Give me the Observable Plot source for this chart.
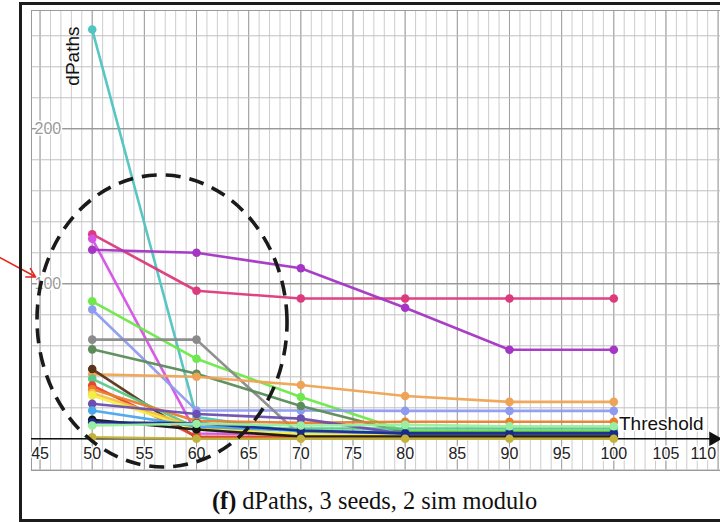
<!DOCTYPE html>
<html><head><meta charset="utf-8">
<script src="https://cdn.jsdelivr.net/npm/d3@7"></script>
<script src="https://cdn.jsdelivr.net/npm/@observablehq/plot@0.6"></script>
<style>
html,body{margin:0;padding:0;background:#fff;width:720px;height:522px;overflow:hidden;}
#frame{position:absolute;left:19px;top:2px;width:800px;height:514px;border:3px solid #1c1c1c;z-index:2;pointer-events:none;}
#chart{position:absolute;left:0;top:0;z-index:1;}
#caption{position:absolute;left:0;width:749px;top:489px;line-height:24px;text-align:center;font-family:"Liberation Serif","Times New Roman",serif;font-size:24.4px;color:#111;z-index:3;}
</style></head><body>
<div id="frame"></div>
<div id="chart"></div>
<div id="caption"><b>(f)</b> dPaths, 3 seeds, 2 sim modulo</div>
<script>
// Threshold values (x)
const thresholds = [50, 60, 70, 80, 90, 100];

// dPaths per series, read at thresholds 50..100
const sTeal       = [264, 14, 4.5, 4.5, 4.5, 4.5];
const sCrimson    = [132, 95.5, 90.5, 90.5, 90.5, 90.5];
const sMagenta    = [129, 3.4, 3, 2.6, 2.6, 2.6];
const sPurple     = [122, 120, 110, 84.5, 57.4, 57.4];
const sLime       = [88.7, 51.6, 27, 5, 5, 5];
const sLavender   = [83.4, 18.3, 18.3, 18, 18, 18];
const sGray       = [64, 64, 2, 2, 2, 2];
const sDarkGreen  = [57.7, 42, 21.2, 4, 4, 4];
const sOrange     = [41.6, 40, 34.7, 27.6, 23.8, 23.8];
const sBrown      = [45, 0.8, 0.8, 0.8, 0.8, 0.8];
const sMidGreen   = [38.7, 7, 6.6, 6.6, 6.6, 6.6];
const sRed        = [34.4, 1.5, 1.2, 1.2, 1.2, 1.2];
const sDarkOrange = [32, 11.5, 10.3, 11, 11, 11];
const sLightOrange= [29.5, 7.5, 2.5, 2, 2, 2];
const sYellow     = [28, 6, 3, 2, 2, 2];
const sDarkPurple = [22.6, 16, 13, 3, 3, 3];
const sLightBlue  = [18.3, 8, 5, 3.5, 3.5, 3.5];
const sBlack      = [12.3, 6, 1.5, 1.5, 1.5, 1.5];
const sNavy       = [10.7, 10, 5.4, 3.5, 3.5, 3.5];
const sPaleGreen  = [8.6, 9.7, 8.6, 9, 8.1, 8.1];
const sOlive      = [1, 0, 0, 0, 0, 0];

const seriesValues = [sTeal, sCrimson, sMagenta, sPurple, sLime, sLavender, sGray, sDarkGreen,
  sOrange, sBrown, sMidGreen, sRed, sDarkOrange, sLightOrange, sYellow, sDarkPurple,
  sLightBlue, sBlack, sNavy, sPaleGreen, sOlive];
const seriesColors = ["#4fc4c0", "#dc3a7c", "#d651e6", "#a535c4", "#6ee84a", "#8e9bf0", "#8a8a8a", "#5b8c5a",
  "#efa354", "#5a3418", "#58c98a", "#e8452c", "#e8802e", "#f6c044", "#f4ee4a", "#6a4fb0",
  "#4aa8ea", "#151515", "#1a2a8a", "#9aeea0", "#c3b33c"];

// Axis tick labels / grid
const xTickLabels = [45, 50, 55, 60, 65, 70, 75, 80, 85, 90, 95, 100, 105, 110];
const yTickLabels = [100, 200];
const xMinorGrid = d3.range(45, 111);
const yMinorGrid = d3.range(-20, 261, 20);

const rows = seriesValues.flatMap((vals, si) =>
  vals.map((v, i) => ({series: si, x: thresholds[i], y: v})));

const xDomain = [44.18, 110.23];
const yDomain = [-20.45, 276.3];
const font = "Liberation Sans, Arial, sans-serif";

const marks = [
  Plot.ruleX(xMinorGrid, {stroke: "#cdcdcd", strokeWidth: 1}),
  Plot.ruleX(xTickLabels, {stroke: "#a0a0a0", strokeWidth: 1}),
  Plot.ruleY(yMinorGrid, {stroke: "#c0c0c0", strokeWidth: 1}),
  Plot.ruleY(yTickLabels, {stroke: "#858585", strokeWidth: 1}),
  Plot.frame({stroke: "#9a9a9a"}),
  Plot.ruleY([0], {stroke: "#111", strokeWidth: 1.6}),
  Plot.dot([0], {x: xDomain[1], y: d => d, dx: -7, symbol: "triangle", rotate: 90, r: 5.5, fill: "#111", stroke: "none"}),
];
seriesValues.forEach((vals, si) => {
  const data = rows.filter(d => d.series === si);
  marks.push(Plot.line(data, {x: "x", y: "y", stroke: seriesColors[si], strokeWidth: 2.6, strokeOpacity: 0.95}));
  marks.push(Plot.dot(data, {x: "x", y: "y", fill: seriesColors[si], r: 4.3, stroke: "none"}));
});
marks.push(
  Plot.text(xTickLabels.filter(d => d < 110), {x: d => d, y: 0, dy: 15, text: d => String(d), fontSize: 16, fill: "#222", stroke: "white", strokeWidth: 3, fontFamily: font}),
  Plot.text(xTickLabels.filter(d => d >= 110), {x: d => d, y: 0, dy: 15, dx: -2, textAnchor: "end", text: d => String(d), fontSize: 16, fill: "#222", stroke: "white", strokeWidth: 3, fontFamily: font}),
  Plot.text(yTickLabels, {x: xDomain[0], y: d => d, dx: 3, textAnchor: "start", text: d => String(d), fontSize: 16, fill: "#9a9a9a", stroke: "white", strokeWidth: 3, fontFamily: font}),
  Plot.text(["Threshold"], {frameAnchor: "right", y: 0, dx: -17, dy: -15, textAnchor: "end", text: d => d, fontSize: 19, fill: "#111", stroke: "white", strokeWidth: 3, fontFamily: font}),
  Plot.text(["dPaths"], {frameAnchor: "top-left", dx: 41, dy: 16, rotate: -90, textAnchor: "end", lineAnchor: "middle", text: d => d, fontSize: 19, fill: "#111", fontFamily: font}),
  Plot.arrow([0], {x1: 41.0, y1: 117.5, x2: 44.56, y2: 104.5, stroke: "#e8251f", strokeWidth: 1.6, headLength: 9})
);

const plot = Plot.plot({
  width: 720, height: 470,
  marginLeft: 31, marginTop: 10, marginRight: 0, marginBottom: 0,
  x: {domain: xDomain, axis: null},
  y: {domain: yDomain, axis: null},
  style: {background: "white", overflow: "visible"},
  marks
});

// Dashed ellipse annotation (data units)
const ellipseCenter = [56.74, 75.7];
const ellipseRadius = [11.98, 94.2];
const sx = plot.scale("x"), sy = plot.scale("y");
const cx = sx.apply(ellipseCenter[0]), cy = sy.apply(ellipseCenter[1]);
const rx = sx.apply(ellipseCenter[0] + ellipseRadius[0]) - cx;
const ry = cy - sy.apply(ellipseCenter[1] + ellipseRadius[1]);
d3.select(plot).append("ellipse")
  .attr("cx", cx).attr("cy", cy).attr("rx", rx).attr("ry", ry)
  .attr("transform", `rotate(-2,${cx},${cy})`)
  .attr("fill", "none").attr("stroke", "#1a1a1a").attr("stroke-width", 3.6)
  .attr("stroke-dasharray", "15 9");

document.getElementById("chart").appendChild(plot);
</script>
</body></html>
